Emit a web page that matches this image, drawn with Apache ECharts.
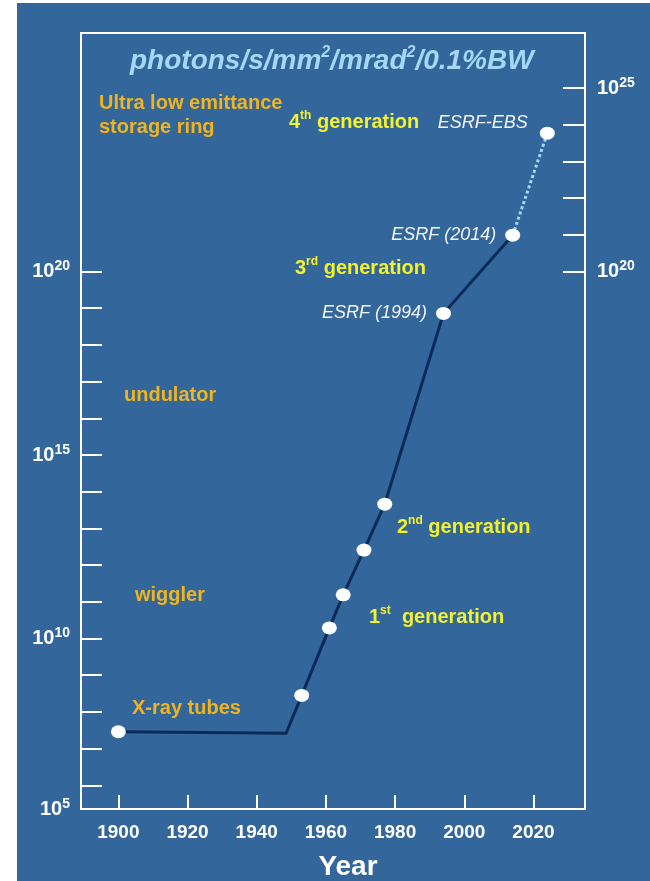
<!DOCTYPE html>
<html>
<head>
<meta charset="utf-8">
<script src="https://cdn.jsdelivr.net/npm/echarts@6/dist/echarts.min.js"></script>
<style>
  html, body { margin: 0; padding: 0; background: #ffffff; }
  #panel { position: absolute; left: 17px; top: 3px; right: 0; bottom: 0; background: #33669a; }
  #chart { position: absolute; left: 0; top: 0; width: 650px; height: 881px; }
</style>
</head>
<body>
<div id="panel"></div>
<div id="chart"></div>
<script>
// Peak brightness of X-ray sources, stored as the base-10 exponent of photons/s/mm²/mrad²/0.1%BW
const pointYears = [1900, 1953, 1961, 1965, 1971, 1977, 1994, 2014, 2024];
const pointExps  = [7.46, 8.45, 10.29, 11.19, 12.41, 13.66, 18.86, 20.99, 23.77];
const pointNames = ['', '', '', '', '', '', 'ESRF (1994)', 'ESRF (2014)', 'ESRF-EBS'];

// End of the flat X-ray tube era, where the curve starts to climb
const plateauEndYear = [1948.5];
const plateauEndExp  = [7.42];

// Axis ticks and labels
const yearTicks      = [1900, 1920, 1940, 1960, 1980, 2000, 2020];
const leftTickExps   = [6, 7, 8, 9, 10, 11, 12, 13, 14, 15, 16, 17, 18, 19, 20];
const leftLabelExps  = [10, 15, 20];
const rightTickExps  = [20, 21, 22, 23, 24, 25];
const rightLabelExps = [20, 25];

// Axis extents
const xMin = 1889.2, xMax = 2034.9;
const yMin = 5.355, yMax = 26.5;

const FONT = '"Liberation Sans", Arial, sans-serif';
const WHITE = '#ffffff';
const ORANGE = '#f0b420';
const YELLOW = '#f2f22e';
const NAVY = '#0a2a58';
const PALE = '#a6d8f5';

const powRich = {
  b: { fontSize: 20, fontWeight: 'bold', color: WHITE, fontFamily: FONT, lineHeight: 24 },
  s: { fontSize: 14, fontWeight: 'bold', color: WHITE, fontFamily: FONT, lineHeight: 13, verticalAlign: 'top' }
};
const powLabel = v => '{b|10}{s|' + Math.floor(v + 1e-9) + '}';

// solid curve: tube plateau then the climb up to 2014
const solidLine = [[pointYears[0], pointExps[0]], [plateauEndYear[0], plateauEndExp[0]]];
for (let i = 1; i <= 7; i++) solidLine.push([pointYears[i], pointExps[i]]);
const dottedLine = [[pointYears[7], pointExps[7]], [pointYears[8], pointExps[8]]];

const namedLabel = {
  'ESRF (1994)': { position: 'left', distance: 9 },
  'ESRF (2014)': { position: 'left', distance: 9 },
  'ESRF-EBS':    { position: 'left', distance: 12, offset: [0, -10] }
};
const points = pointYears.map((yr, i) => {
  const item = { name: pointNames[i], value: [yr, pointExps[i]] };
  if (pointNames[i]) {
    item.label = Object.assign({
      show: true, formatter: '{b}', color: '#f2f4f8', fontSize: 18,
      fontStyle: 'italic', fontFamily: FONT
    }, namedLabel[pointNames[i]]);
  }
  return item;
});

function supText(main, sup, rest, x, y, color) {
  return {
    type: 'text', x: x, y: y, silent: true,
    style: {
      text: '{g|' + main + '}{s|' + sup + '}{g|' + rest + '}',
      align: 'left', verticalAlign: 'middle',
      rich: {
        g: { fontSize: 20, fontWeight: 'bold', fontFamily: FONT, fill: color, lineHeight: 24 },
        s: { fontSize: 12, fontWeight: 'bold', fontFamily: FONT, fill: color, lineHeight: 12, verticalAlign: 'top' }
      }
    }
  };
}
function plainText(text, x, y, color) {
  return {
    type: 'text', x: x, y: y, silent: true,
    style: { text: text, fill: color, font: 'bold 20px ' + FONT, align: 'left', verticalAlign: 'middle' }
  };
}

const chart = echarts.init(document.getElementById('chart'), null, { renderer: 'canvas' });
chart.setOption({
  backgroundColor: 'transparent',
  animation: false,
  title: {
    text: '{t|photons/s/mm}{s|2}{t|/mrad}{s|2}{t|/0.1%BW}',
    left: 130, top: 45, padding: 0,
    textStyle: {
      rich: {
        t: { fontSize: 28, fontWeight: 'bold', fontStyle: 'italic', color: PALE, fontFamily: FONT, lineHeight: 32 },
        s: { fontSize: 16, fontWeight: 'bold', fontStyle: 'italic', color: PALE, fontFamily: FONT, lineHeight: 18, verticalAlign: 'top' }
      }
    }
  },
  grid: {
    left: 81, right: 65, top: 33, bottom: 72,
    containLabel: false, outerBoundsMode: 'none',
    show: true, borderColor: WHITE, borderWidth: 2, backgroundColor: 'transparent'
  },
  xAxis: {
    type: 'value', min: xMin, max: xMax,
    name: 'Year', nameLocation: 'middle', nameGap: 44,
    nameTextStyle: { color: WHITE, fontSize: 28, fontWeight: 'bold', fontFamily: FONT, padding: [0, 0, 0, 30] },
    axisLine: { show: true, onZero: false, lineStyle: { color: WHITE, width: 2 } },
    axisTick: { show: true, inside: true, length: 14, customValues: yearTicks, lineStyle: { color: WHITE, width: 2 } },
    axisLabel: {
      customValues: yearTicks, formatter: v => String(Math.round(v)),
      color: WHITE, fontSize: 19, fontWeight: 'bold', fontFamily: FONT, margin: 14
    },
    splitLine: { show: false }
  },
  yAxis: [
    {
      type: 'value', position: 'left', min: yMin, max: yMax,
      axisLine: { show: true, onZero: false, lineStyle: { color: WHITE, width: 2 } },
      axisTick: { show: true, inside: true, length: 21, customValues: [yMin].concat(leftTickExps), lineStyle: { color: WHITE, width: 2 } },
      axisLabel: { customValues: [yMin].concat(leftLabelExps), formatter: powLabel, rich: powRich, margin: 11 },
      splitLine: { show: false }
    },
    {
      type: 'value', position: 'right', min: yMin, max: yMax,
      axisLine: { show: true, onZero: false, lineStyle: { color: WHITE, width: 2 } },
      axisTick: { show: true, inside: true, length: 22, customValues: rightTickExps, lineStyle: { color: WHITE, width: 2 } },
      axisLabel: { customValues: rightLabelExps, formatter: powLabel, rich: powRich, margin: 12 },
      splitLine: { show: false }
    }
  ],
  graphic: [
    plainText('Ultra low emittance', 99, 103, ORANGE),
    plainText('storage ring', 99, 127, ORANGE),
    plainText('undulator', 124, 395, ORANGE),
    plainText('wiggler', 135, 595, ORANGE),
    plainText('X-ray tubes', 132, 708, ORANGE),
    supText('4', 'th', ' generation', 289, 122, YELLOW),
    supText('3', 'rd', ' generation', 295, 268, YELLOW),
    supText('2', 'nd', ' generation', 397, 527, YELLOW),
    supText('1', 'st', '  generation', 369, 617, YELLOW)
  ],
  series: [
    {
      type: 'line', data: solidLine, symbol: 'none', z: 3,
      lineStyle: { color: NAVY, width: 3 }
    },
    {
      type: 'line', data: dottedLine, symbol: 'none', z: 3,
      lineStyle: { color: PALE, width: 3, type: [3, 2.5] }
    },
    {
      type: 'scatter', data: points, symbol: 'circle', symbolSize: [15, 13], z: 5,
      itemStyle: { color: WHITE, opacity: 1 },
      label: { show: false }
    }
  ]
});
</script>
</body>
</html>
